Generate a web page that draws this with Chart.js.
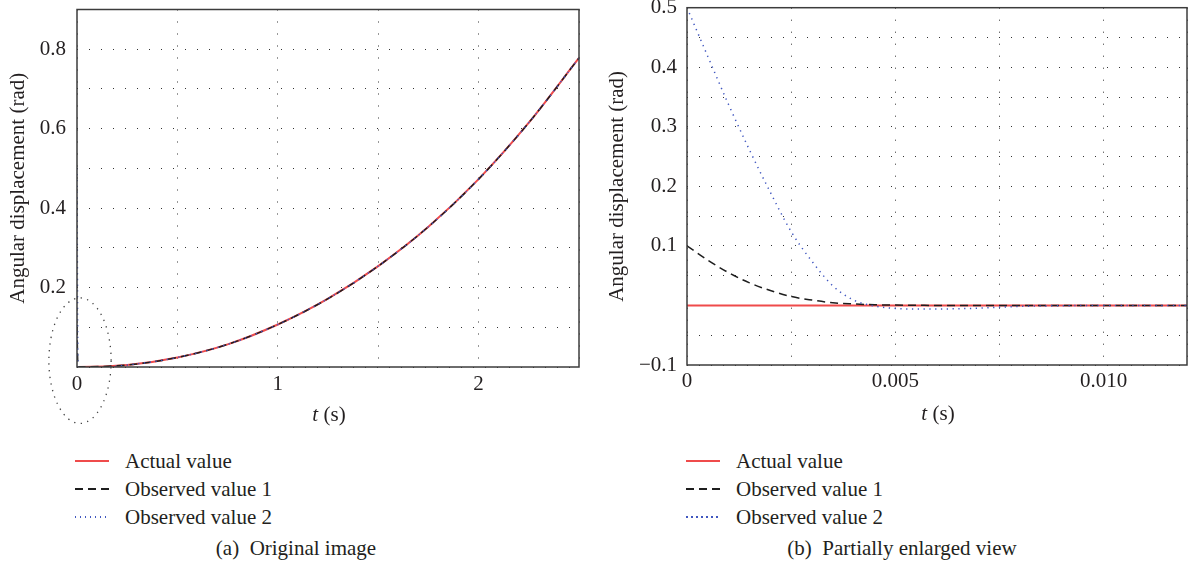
<!DOCTYPE html>
<html>
<head>
<meta charset="utf-8">
<title>Angular displacement</title>
<script src="https://cdn.jsdelivr.net/npm/chart.js@4.4.1/dist/chart.umd.min.js"></script>
<style>
    body {
        margin: 0;
        width: 1188px;
        height: 567px;
        position: relative;
        background: #fff;
        font-family: "Liberation Serif", "Times New Roman", serif;
        font-size: 21px;
        color: #231f20;
        overflow: hidden;
    }
    canvas { position: absolute; top: 0; }
    #chart-a { left: 0; }
    #chart-b { left: 590px; }
    .x-title, .caption {
        position: absolute;
        line-height: 24px;
        white-space: pre;
        transform: translateX(-50%);
    }
    .legend { position: absolute; top: 447px; }
    .legend-row { height: 28px; display: flex; align-items: center; }
    .sample { width: 34px; margin-right: 16px; }
    .sample.actual { height: 2px; background: #ef4b4b; }
    .sample.obs1 { height: 1.5px; background: repeating-linear-gradient(to right, #1e1e1e 0 8px, transparent 8px 13px); }
    .sample.obs2 { height: 1.5px; background: repeating-linear-gradient(to right, #4057c0 0 1.5px, transparent 1.5px 5px); }
</style>
</head>
<body>
<canvas id="chart-a" width="590" height="440"></canvas>
<canvas id="chart-b" width="598" height="440"></canvas>

<div class="x-title" style="left:329px; top:402px;"><i>t</i> (s)</div>
<div class="x-title" style="left:938px; top:401px;"><i>t</i> (s)</div>

<div class="legend" style="left:75px;">
    <div class="legend-row"><span class="sample actual"></span>Actual value</div>
    <div class="legend-row"><span class="sample obs1"></span>Observed value 1</div>
    <div class="legend-row"><span class="sample obs2"></span>Observed value 2</div>
</div>
<div class="legend" style="left:686px;">
    <div class="legend-row"><span class="sample actual"></span>Actual value</div>
    <div class="legend-row"><span class="sample obs1"></span>Observed value 1</div>
    <div class="legend-row"><span class="sample obs2"></span>Observed value 2</div>
</div>

<div class="caption" style="left:296px; top:536px;">(a)  Original image</div>
<div class="caption" style="left:902px; top:536px;">(b)  Partially enlarged view</div>

<script>
// (a) Original image
const timeA = [0, 0.005, 0.25, 0.5, 0.75, 1, 1.25, 1.5, 1.75, 2, 2.25, 2.5];
const actualA = [0, 0, 0.005, 0.024, 0.057, 0.107, 0.172, 0.254, 0.353, 0.473, 0.615, 0.778];
const observed1A = [0.1, 0.0007, 0.005, 0.024, 0.057, 0.107, 0.172, 0.254, 0.353, 0.473, 0.615, 0.778];
const observed2A = [0.5, -0.005, 0.005, 0.024, 0.057, 0.107, 0.172, 0.254, 0.353, 0.473, 0.615, 0.778];
const xTicksA = [0, 0.5, 1, 1.5, 2, 2.5];
const xLabelsA = ['0', '', '1', '', '2', ''];
const yTicksA = [0, 0.1, 0.2, 0.3, 0.4, 0.5, 0.6, 0.7, 0.8, 0.9];
const yLabelsA = ['', '', '0.2', '', '0.4', '', '0.6', '', '0.8', ''];

// (b) Partially enlarged view
const timeB = [0, 0.0005, 0.001, 0.0015, 0.002, 0.0025, 0.003, 0.0035, 0.004, 0.0045, 0.005,
    0.0055, 0.006, 0.0065, 0.007, 0.0075, 0.008, 0.009, 0.01, 0.011, 0.012];
const actualB = [0, 0, 0, 0, 0, 0, 0, 0, 0, 0, 0, 0, 0, 0, 0, 0, 0, 0, 0, 0, 0];
const observed1B = [0.1, 0.076, 0.055, 0.038, 0.025, 0.015, 0.009, 0.0045, 0.0025, 0.0012, 0.0006,
    0.0003, 0, 0, 0, 0, 0, 0, 0, 0, 0];
const observed2B = [0.5, 0.418, 0.337, 0.261, 0.19, 0.124, 0.074, 0.033, 0.009, -0.001, -0.005,
    -0.006, -0.006, -0.0055, -0.0045, -0.003, -0.0015, -0.0005, 0, 0, 0];
const xTicksB = [0, 0.0025, 0.005, 0.0075, 0.01, 0.012];
const xLabelsB = ['0', '', '0.005', '', '0.010', ''];
const yTicksB = [-0.1, -0.05, 0, 0.05, 0.1, 0.15, 0.2, 0.25, 0.3, 0.35, 0.4, 0.45, 0.5];
const yLabelsB = ['\u22120.1', '', '', '', '0.1', '', '0.2', '', '0.3', '', '0.4', '', '0.5'];

// dotted ellipse marking the enlarged region, in data units
const zoomMark = { t: 0.015, value: 0.016, halfWidth: 0.155, halfHeight: 0.158 };

const TEXT = '#231f20';
Chart.defaults.font.family = '"Liberation Serif", "Times New Roman", serif';
Chart.defaults.font.size = 21;
Chart.defaults.color = TEXT;

const points = (xs, ys) => xs.map((x, i) => ({ x, y: ys[i] }));

// box round the plot area
const framePlugin = {
    id: 'frame',
    afterDatasetsDraw(chart) {
        const { ctx, chartArea: a } = chart;
        ctx.save();
        ctx.strokeStyle = '#3c3c3c';
        ctx.lineWidth = 1.5;
        ctx.strokeRect(a.left, a.top, a.right - a.left, a.bottom - a.top);
        ctx.restore();
    }
};

const zoomMarkPlugin = {
    id: 'zoomMark',
    afterDraw(chart) {
        const { ctx, scales: { x, y } } = chart;
        const cx = x.getPixelForValue(zoomMark.t);
        const cy = y.getPixelForValue(zoomMark.value);
        const rx = x.getPixelForValue(zoomMark.t + zoomMark.halfWidth) - cx;
        const ry = cy - y.getPixelForValue(zoomMark.value + zoomMark.halfHeight);
        ctx.save();
        ctx.strokeStyle = '#444';
        ctx.lineWidth = 1.3;
        ctx.setLineDash([1.3, 5.4]);
        ctx.beginPath();
        ctx.ellipse(cx, cy, rx, ry, 0, 0, Math.PI * 2);
        ctx.stroke();
        ctx.restore();
    }
};

function makeAxis(min, max, tickValues, tickLabels, opts) {
    return {
        type: 'linear',
        min: min,
        max: max,
        afterBuildTicks: scale => { scale.ticks = tickValues.map(v => ({ value: v })); },
        afterFit: scale => {
            if (opts.width) scale.width = opts.width;
            if (opts.height) scale.height = opts.height;
            scale.paddingTop = 0;
            scale.paddingBottom = 0;
            scale.paddingLeft = 0;
            scale.paddingRight = 0;
        },
        ticks: {
            autoSkip: false,
            maxRotation: 0,
            padding: opts.tickPadding,
            color: TEXT,
            callback: (value, index) => tickLabels[index]
        },
        grid: { color: '#333', lineWidth: 1, drawTicks: false },
        border: { display: false, dash: [1, 11] },
        title: opts.title ? {
            display: true,
            text: opts.title,
            color: TEXT,
            font: { size: 21 },
            padding: { top: opts.titlePadding, bottom: 0 }
        } : { display: false }
    };
}

function makeDatasets(xs, actual, obs1, obs2) {
    return [
        {
            label: 'Actual value',
            data: points(xs, actual),
            borderColor: '#ef4b4b',
            borderWidth: 2,
            order: 3
        },
        {
            label: 'Observed value 1',
            data: points(xs, obs1),
            borderColor: '#1e1e1e',
            borderWidth: 1.5,
            borderDash: [8, 5],
            order: 2
        },
        {
            label: 'Observed value 2',
            data: points(xs, obs2),
            borderColor: '#4057c0',
            borderWidth: 1.5,
            borderDash: [1.3, 4.5],
            order: 1
        }
    ];
}

function makeChart(id, datasets, scales, padding, plugins) {
    return new Chart(document.getElementById(id), {
        type: 'line',
        data: { datasets: datasets },
        options: {
            responsive: false,
            animation: false,
            layout: { padding: padding },
            elements: {
                point: { radius: 0 },
                line: { fill: false, cubicInterpolationMode: 'monotone' }
            },
            scales: scales,
            plugins: { legend: { display: false }, tooltip: { enabled: false } }
        },
        plugins: plugins
    });
}

makeChart('chart-a',
    makeDatasets(timeA, actualA, observed1A, observed2A),
    {
        x: makeAxis(0, 2.5, xTicksA, xLabelsA, { height: 73, tickPadding: 5 }),
        y: makeAxis(0, 0.9, yTicksA, yLabelsA, {
            width: 77, tickPadding: 11,
            title: 'Angular displacement (rad)', titlePadding: 6
        })
    },
    { top: 9.5, right: 11, left: 0, bottom: 0 },
    [framePlugin, zoomMarkPlugin]
);

makeChart('chart-b',
    makeDatasets(timeB, actualB, observed1B, observed2B),
    {
        x: makeAxis(0, 0.012, xTicksB, xLabelsB, { height: 75, tickPadding: 4 }),
        y: makeAxis(-0.1, 0.5, yTicksB, yLabelsB, {
            width: 97, tickPadding: 10,
            title: 'Angular displacement (rad)', titlePadding: 15
        })
    },
    { top: 7.7, right: 1, left: 0, bottom: 0 },
    [framePlugin]
);
</script>
</body>
</html>
